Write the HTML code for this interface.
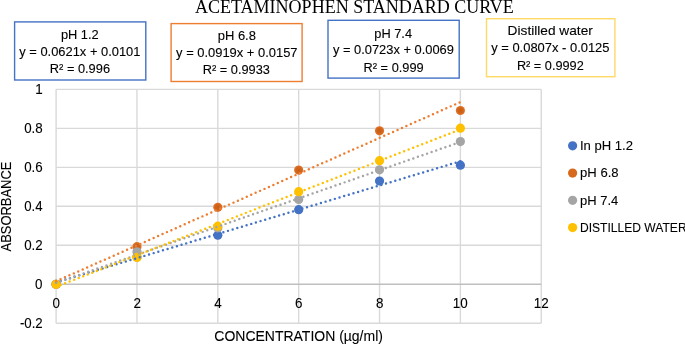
<!DOCTYPE html><html><head><meta charset="utf-8"><style>html,body{margin:0;padding:0;background:#fff;overflow:hidden;}svg{display:block;will-change:transform;}text{fill:#000;stroke:#000;stroke-width:0.1px;}</style></head><body>
<svg width="685" height="344" viewBox="0 0 685 344">
<defs><radialGradient id="og" cx="50%" cy="50%" r="50%"><stop offset="0" stop-color="#c75c15"/><stop offset="0.55" stop-color="#cf641a"/><stop offset="1" stop-color="#e5752a"/></radialGradient></defs>
<rect width="685" height="344" fill="#fff"/>
<g stroke="#d9d9d9" stroke-width="1.4"><line x1="56.10" y1="89.35" x2="56.10" y2="323.29"/><line x1="136.96" y1="89.35" x2="136.96" y2="323.29"/><line x1="217.82" y1="89.35" x2="217.82" y2="323.29"/><line x1="298.68" y1="89.35" x2="298.68" y2="323.29"/><line x1="379.54" y1="89.35" x2="379.54" y2="323.29"/><line x1="460.40" y1="89.35" x2="460.40" y2="323.29"/><line x1="541.26" y1="89.35" x2="541.26" y2="323.29"/><line x1="56.10" y1="323.29" x2="541.26" y2="323.29"/><line x1="56.10" y1="245.31" x2="541.26" y2="245.31"/><line x1="56.10" y1="206.32" x2="541.26" y2="206.32"/><line x1="56.10" y1="167.33" x2="541.26" y2="167.33"/><line x1="56.10" y1="128.34" x2="541.26" y2="128.34"/><line x1="56.10" y1="89.35" x2="541.26" y2="89.35"/></g>
<line x1="56.10" y1="284.30" x2="541.26" y2="284.30" stroke="#bfbfbf" stroke-width="1.4"/>
<rect x="14.60" y="21.90" width="131.20" height="58.10" fill="#fff" stroke="#4472c4" stroke-width="1.4"/>
<rect x="171.10" y="23.60" width="131.00" height="57.90" fill="#fff" stroke="#ed7d31" stroke-width="1.4"/>
<rect x="328.00" y="20.30" width="131.20" height="57.80" fill="#fff" stroke="#4472c4" stroke-width="1.4"/>
<rect x="486.50" y="18.70" width="128.40" height="58.00" fill="#fff" stroke="#ffd966" stroke-width="1.4"/>
<text x="195.00" y="12.65" style="font-family:'Liberation Serif',serif;font-size:18.0px;stroke:none" textLength="318.87" lengthAdjust="spacingAndGlyphs">ACETAMINOPHEN STANDARD CURVE</text>
<text x="60.90" y="38.90" style="font-family:'Liberation Sans',sans-serif;font-size:12.1px" textLength="37.82" lengthAdjust="spacingAndGlyphs">pH 1.2</text>
<text x="19.30" y="55.70" style="font-family:'Liberation Sans',sans-serif;font-size:12.1px" textLength="121.12" lengthAdjust="spacingAndGlyphs">y = 0.0621x + 0.0101</text>
<text x="49.80" y="72.60" style="font-family:'Liberation Sans',sans-serif;font-size:12.1px" textLength="60.22" lengthAdjust="spacingAndGlyphs">R² = 0.996</text>
<text x="217.69" y="40.00" style="font-family:'Liberation Sans',sans-serif;font-size:12.1px" textLength="38.24" lengthAdjust="spacingAndGlyphs">pH 6.8</text>
<text x="176.10" y="56.90" style="font-family:'Liberation Sans',sans-serif;font-size:12.1px" textLength="121.42" lengthAdjust="spacingAndGlyphs">y = 0.0919x + 0.0157</text>
<text x="202.70" y="74.40" style="font-family:'Liberation Sans',sans-serif;font-size:12.1px" textLength="67.22" lengthAdjust="spacingAndGlyphs">R² = 0.9933</text>
<text x="374.30" y="37.50" style="font-family:'Liberation Sans',sans-serif;font-size:12.1px" textLength="37.72" lengthAdjust="spacingAndGlyphs">pH 7.4</text>
<text x="332.90" y="54.00" style="font-family:'Liberation Sans',sans-serif;font-size:12.1px" textLength="121.02" lengthAdjust="spacingAndGlyphs">y = 0.0723x + 0.0069</text>
<text x="363.60" y="71.80" style="font-family:'Liberation Sans',sans-serif;font-size:12.1px" textLength="60.02" lengthAdjust="spacingAndGlyphs">R² = 0.999</text>
<text x="507.63" y="34.90" style="font-family:'Liberation Sans',sans-serif;font-size:12.1px" textLength="85.24" lengthAdjust="spacingAndGlyphs">Distilled water</text>
<text x="491.20" y="52.40" style="font-family:'Liberation Sans',sans-serif;font-size:12.1px" textLength="118.32" lengthAdjust="spacingAndGlyphs">y = 0.0807x - 0.0125</text>
<text x="516.91" y="70.00" style="font-family:'Liberation Sans',sans-serif;font-size:12.1px" textLength="66.81" lengthAdjust="spacingAndGlyphs">R² = 0.9992</text>
<text x="19.89" y="327.69" style="font-family:'Liberation Sans',sans-serif;font-size:14.0px" textLength="22.85" lengthAdjust="spacingAndGlyphs">-0.2</text>
<text x="35.06" y="288.70" style="font-family:'Liberation Sans',sans-serif;font-size:14.0px" textLength="7.47" lengthAdjust="spacingAndGlyphs">0</text>
<text x="24.18" y="249.71" style="font-family:'Liberation Sans',sans-serif;font-size:14.0px" textLength="18.56" lengthAdjust="spacingAndGlyphs">0.2</text>
<text x="24.19" y="210.72" style="font-family:'Liberation Sans',sans-serif;font-size:14.0px" textLength="18.34" lengthAdjust="spacingAndGlyphs">0.4</text>
<text x="24.18" y="171.73" style="font-family:'Liberation Sans',sans-serif;font-size:14.0px" textLength="18.56" lengthAdjust="spacingAndGlyphs">0.6</text>
<text x="24.18" y="132.74" style="font-family:'Liberation Sans',sans-serif;font-size:14.0px" textLength="18.56" lengthAdjust="spacingAndGlyphs">0.8</text>
<text x="35.27" y="93.75" style="font-family:'Liberation Sans',sans-serif;font-size:14.0px" textLength="7.47" lengthAdjust="spacingAndGlyphs">1</text>
<text x="52.52" y="307.55" style="font-family:'Liberation Sans',sans-serif;font-size:14.0px" textLength="7.47" lengthAdjust="spacingAndGlyphs">0</text>
<text x="133.38" y="307.55" style="font-family:'Liberation Sans',sans-serif;font-size:14.0px" textLength="7.47" lengthAdjust="spacingAndGlyphs">2</text>
<text x="214.34" y="307.55" style="font-family:'Liberation Sans',sans-serif;font-size:14.0px" textLength="7.47" lengthAdjust="spacingAndGlyphs">4</text>
<text x="295.10" y="307.55" style="font-family:'Liberation Sans',sans-serif;font-size:14.0px" textLength="7.47" lengthAdjust="spacingAndGlyphs">6</text>
<text x="376.06" y="307.55" style="font-family:'Liberation Sans',sans-serif;font-size:14.0px" textLength="7.47" lengthAdjust="spacingAndGlyphs">8</text>
<text x="452.87" y="307.55" style="font-family:'Liberation Sans',sans-serif;font-size:14.0px" textLength="14.95" lengthAdjust="spacingAndGlyphs">10</text>
<text x="533.84" y="307.55" style="font-family:'Liberation Sans',sans-serif;font-size:14.0px" textLength="14.95" lengthAdjust="spacingAndGlyphs">12</text>
<text x="214.34" y="341.00" style="font-family:'Liberation Sans',sans-serif;font-size:15.3px" textLength="168.58" lengthAdjust="spacingAndGlyphs">CONCENTRATION (µg/ml)</text>
<text transform="translate(10.90,251.40) rotate(-90)" style="font-family:'Liberation Sans',sans-serif;font-size:15.3px" textLength="89.74" lengthAdjust="spacingAndGlyphs">ABSORBANCE</text>
<text x="579.88" y="150.00" style="font-family:'Liberation Sans',sans-serif;font-size:13.3px" textLength="53.15" lengthAdjust="spacingAndGlyphs">In pH 1.2</text>
<text x="580.08" y="177.10" style="font-family:'Liberation Sans',sans-serif;font-size:13.3px" textLength="38.55" lengthAdjust="spacingAndGlyphs">pH 6.8</text>
<text x="580.09" y="205.00" style="font-family:'Liberation Sans',sans-serif;font-size:13.3px" textLength="38.23" lengthAdjust="spacingAndGlyphs">pH 7.4</text>
<text x="579.96" y="231.70" style="font-family:'Liberation Sans',sans-serif;font-size:13.3px" textLength="106.66" lengthAdjust="spacingAndGlyphs">DISTILLED WATER</text>
<g fill="#4472c4"><circle cx="56.10" cy="284.30" r="4.6"/><circle cx="136.96" cy="257.01" r="4.6"/><circle cx="217.82" cy="235.17" r="4.6"/><circle cx="298.68" cy="209.63" r="4.6"/><circle cx="379.54" cy="180.98" r="4.6"/><circle cx="460.40" cy="165.19" r="4.6"/></g>
<g fill="url(#og)"><circle cx="56.10" cy="284.30" r="4.6"/><circle cx="136.96" cy="246.67" r="4.6"/><circle cx="217.82" cy="207.29" r="4.6"/><circle cx="298.68" cy="170.06" r="4.6"/><circle cx="379.54" cy="130.80" r="4.6"/><circle cx="460.40" cy="110.50" r="4.6"/></g>
<g fill="#a5a5a5"><circle cx="56.10" cy="284.30" r="4.6"/><circle cx="136.96" cy="251.74" r="4.6"/><circle cx="217.82" cy="227.96" r="4.6"/><circle cx="298.68" cy="199.50" r="4.6"/><circle cx="379.54" cy="169.86" r="4.6"/><circle cx="460.40" cy="141.60" r="4.6"/></g>
<g fill="#ffc000"><circle cx="56.10" cy="284.30" r="4.6"/><circle cx="136.96" cy="257.40" r="4.6"/><circle cx="217.82" cy="226.20" r="4.6"/><circle cx="298.68" cy="191.70" r="4.6"/><circle cx="379.54" cy="160.70" r="4.6"/><circle cx="460.40" cy="128.15" r="4.6"/></g>
<line x1="56.10" y1="282.33" x2="460.40" y2="161.27" stroke="#4472c4" stroke-width="2.45" stroke-linecap="round" stroke-dasharray="0 4.85"/>
<line x1="56.10" y1="281.24" x2="460.40" y2="102.08" stroke="#ed7d31" stroke-width="2.45" stroke-linecap="round" stroke-dasharray="0 4.85"/>
<line x1="56.10" y1="282.95" x2="460.40" y2="142.01" stroke="#a5a5a5" stroke-width="2.45" stroke-linecap="round" stroke-dasharray="0 4.85"/>
<line x1="56.10" y1="286.74" x2="460.40" y2="129.41" stroke="#ffc000" stroke-width="2.45" stroke-linecap="round" stroke-dasharray="0 4.85"/>
<circle cx="572.6" cy="145.80" r="4.6" fill="#4472c4"/>
<circle cx="572.6" cy="173.07" r="4.6" fill="#d7691e"/>
<circle cx="572.6" cy="200.34" r="4.6" fill="#a5a5a5"/>
<circle cx="572.6" cy="227.61" r="4.6" fill="#ffc000"/>
</svg></body></html>
